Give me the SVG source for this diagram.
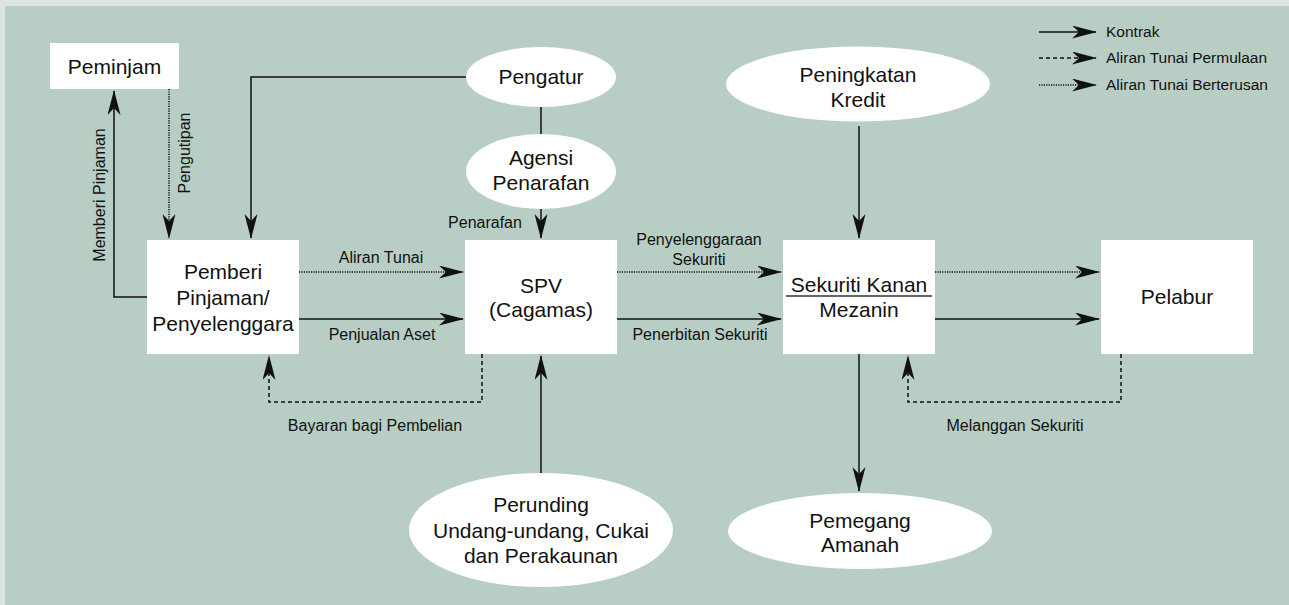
<svg xmlns="http://www.w3.org/2000/svg" width="1289" height="605" viewBox="0 0 1289 605">
<defs>
<marker id="ah" markerUnits="userSpaceOnUse" markerWidth="27" markerHeight="15" refX="24" refY="6.5" orient="auto">
<path d="M0,0 L25,6.5 L0,13 L7,6.5 Z" fill="#111" stroke="none"/>
</marker>
<style>
.box{fill:#fff;stroke:none}
.ell{fill:#fff;stroke:none}
.nt{font-family:"Liberation Sans",Arial,sans-serif;font-size:21px;fill:#111;text-anchor:middle}
.lb{font-family:"Liberation Sans",Arial,sans-serif;font-size:16px;fill:#111;text-anchor:middle}
.lg{font-family:"Liberation Sans",Arial,sans-serif;font-size:15.5px;fill:#111}
.c{fill:none;stroke:#111;stroke-width:1.5}
.solid{marker-end:url(#ah)}
.dash{stroke-dasharray:4,3;marker-end:url(#ah)}
.dot{stroke-dasharray:1.2,1.2;marker-end:url(#ah)}
</style>
</defs>
<rect x="0" y="0" width="1289" height="605" fill="#dde5e2"/>
<rect x="5" y="6" width="1284" height="599" fill="#b8cec5"/>

<g id="connectors">
<path class="c solid" d="M147,297 H114 V91"/>
<path class="c dot" d="M169,89 V238"/>
<path class="c solid" d="M466,77 H251 V238"/>
<path class="c" d="M541,107 V134"/>
<path class="c solid" d="M541,209 V238"/>
<path class="c dot" d="M299,272 H463"/>
<path class="c solid" d="M299,319 H463"/>
<path class="c dash" d="M482,354 V402 H269 V356"/>
<path class="c solid" d="M541,473 V356"/>
<path class="c dot" d="M617,272 H781"/>
<path class="c solid" d="M617,319 H781"/>
<path class="c solid" d="M859,126 V238"/>
<path class="c dot" d="M935,272 H1099"/>
<path class="c solid" d="M935,319 H1099"/>
<path class="c solid" d="M859,354 V491"/>
<path class="c dash" d="M1121,354 V402 H908 V356"/>
</g>

<g id="labels">
<text class="lb" transform="translate(105,195) rotate(-90)">Memberi Pinjaman</text>
<text class="lb" transform="translate(190,153) rotate(-90)">Pengutipan</text>
<text class="lb" x="485" y="228">Penarafan</text>
<text class="lb" x="381" y="263">Aliran Tunai</text>
<text class="lb" x="382" y="340">Penjualan Aset</text>
<text class="lb" x="375" y="431">Bayaran bagi Pembelian</text>
<text class="lb" x="699" y="245">Penyelenggaraan</text>
<text class="lb" x="699" y="265">Sekuriti</text>
<text class="lb" x="700" y="340">Penerbitan Sekuriti</text>
<text class="lb" x="1015" y="431">Melanggan Sekuriti</text>
</g>

<g id="legend">
<path class="c solid" d="M1039,32 H1096"/>
<path class="c dash" d="M1039,58 H1096"/>
<path class="c dot" d="M1039,85 H1096"/>
<text class="lg" x="1106" y="37">Kontrak</text>
<text class="lg" x="1106" y="63">Aliran Tunai Permulaan</text>
<text class="lg" x="1106" y="90">Aliran Tunai Berterusan</text>
</g>

<g id="peminjam">
<rect class="box" x="50" y="43" width="129" height="46"/>
<text class="nt" x="114.5" y="74">Peminjam</text>
</g>

<g id="pemberi">
<rect class="box" x="147" y="240" width="152" height="114"/>
<text class="nt" x="223" y="279">Pemberi</text>
<text class="nt" x="223" y="305">Pinjaman/</text>
<text class="nt" x="223" y="331">Penyelenggara</text>
</g>

<g id="pengatur">
<ellipse class="ell" cx="541" cy="77" rx="75" ry="30"/>
<text class="nt" x="541" y="84">Pengatur</text>
</g>

<g id="agensi">
<ellipse class="ell" cx="541" cy="171.5" rx="75" ry="37.5"/>
<text class="nt" x="541" y="165">Agensi</text>
<text class="nt" x="541" y="190">Penarafan</text>
</g>

<g id="spv">
<rect class="box" x="465" y="240" width="152" height="114"/>
<text class="nt" x="541" y="293">SPV</text>
<text class="nt" x="541" y="317">(Cagamas)</text>
</g>

<g id="peningkatan">
<ellipse class="ell" cx="858" cy="84" rx="132" ry="37.5"/>
<text class="nt" x="858" y="82">Peningkatan</text>
<text class="nt" x="858" y="107">Kredit</text>
</g>

<g id="sekuriti">
<rect class="box" x="783" y="240" width="152" height="114"/>
<text class="nt" x="859" y="292">Sekuriti Kanan</text>
<line x1="786" y1="296" x2="932" y2="296" stroke="#333" stroke-width="1.5"/>
<text class="nt" x="859" y="317">Mezanin</text>
</g>

<g id="pelabur">
<rect class="box" x="1101" y="240" width="152" height="114"/>
<text class="nt" x="1177" y="304">Pelabur</text>
</g>

<g id="perunding">
<ellipse class="ell" cx="541" cy="530" rx="132" ry="57"/>
<text class="nt" x="541" y="512">Perunding</text>
<text class="nt" x="541" y="538">Undang-undang, Cukai</text>
<text class="nt" x="541" y="563">dan Perakaunan</text>
</g>

<g id="pemegang">
<ellipse class="ell" cx="860" cy="531" rx="132" ry="38"/>
<text class="nt" x="860" y="528">Pemegang</text>
<text class="nt" x="860" y="552">Amanah</text>
</g>
</svg>
